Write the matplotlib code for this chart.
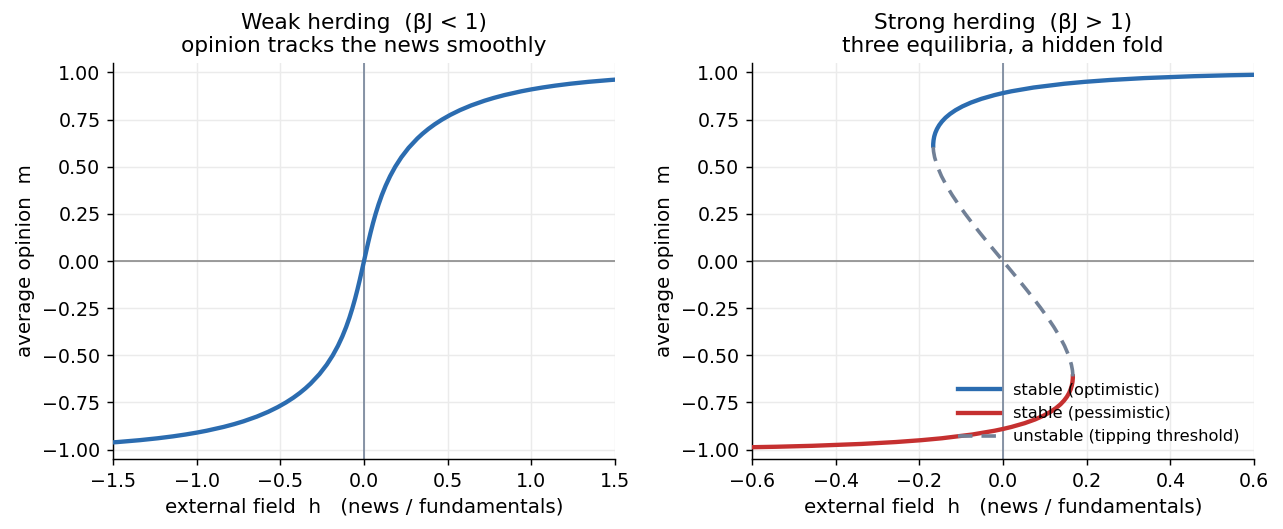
#!/usr/bin/env python3
import matplotlib
matplotlib.use("Agg")
import matplotlib.pyplot as plt

# weak herding: average opinion m vs external field h
WEAK_M_POS = [0.0, 0.05, 0.1, 0.15, 0.2, 0.25, 0.3, 0.35, 0.4, 0.45, 0.5, 0.55,
              0.6, 0.65, 0.675, 0.7, 0.725, 0.75, 0.775, 0.8, 0.825, 0.85, 0.865,
              0.88, 0.9, 0.91, 0.92, 0.93, 0.94, 0.95, 0.96, 0.965]
WEAK_H_POS = [0.0, 0.0126, 0.0254, 0.0389, 0.0534, 0.0693, 0.0869, 0.1068, 0.1296,
              0.1559, 0.1866, 0.2230, 0.2664, 0.3191, 0.3498, 0.3841, 0.4226, 0.4662,
              0.5160, 0.5733, 0.6403, 0.7202, 0.7761, 0.8397, 0.9403, 0.9994, 1.0663,
              1.1430, 1.2326, 1.3397, 1.4724, 1.5524]
weak_m = [-v for v in WEAK_M_POS[:0:-1]] + WEAK_M_POS
weak_h = [-v for v in WEAK_H_POS[:0:-1]] + WEAK_H_POS

# strong herding, upper stable branch (optimistic)
UP_M = [0.612, 0.62, 0.64, 0.66, 0.68, 0.70, 0.72, 0.74, 0.76, 0.78, 0.80, 0.82,
        0.84, 0.86, 0.88, 0.89, 0.90, 0.92, 0.94, 0.95, 0.96, 0.97, 0.98, 0.985, 0.99]
UP_H = [-0.1669, -0.1669, -0.1661, -0.1645, -0.1618, -0.1579, -0.1527, -0.1459,
        -0.1374, -0.1266, -0.1134, -0.0970, -0.0768, -0.0517, -0.0201, -0.0013,
        0.0201, 0.0731, 0.1463, 0.1949, 0.2562, 0.3377, 0.4560, 0.5417, 0.6642]
# lower stable branch (pessimistic) mirrors the upper one
LOW_M = [-v for v in UP_M]
LOW_H = [-v for v in UP_H]

# unstable middle branch (tipping threshold)
MID_M = [-0.612, -0.6, -0.58, -0.55, -0.5, -0.45, -0.4, -0.35, -0.3, -0.25, -0.2,
         -0.15, -0.1, -0.05, 0.0, 0.05, 0.1, 0.15, 0.2, 0.25, 0.3, 0.35, 0.4, 0.45,
         0.5, 0.55, 0.58, 0.6, 0.612]
MID_H = [0.1669, 0.1668, 0.1660, 0.1635, 0.1567, 0.1471, 0.1352, 0.1216, 0.1065,
         0.0904, 0.0733, 0.0555, 0.0373, 0.0187, 0.0, -0.0187, -0.0373, -0.0555,
         -0.0733, -0.0904, -0.1065, -0.1216, -0.1352, -0.1471, -0.1567, -0.1635,
         -0.1660, -0.1668, -0.1669]

BLUE = "#2b6cb0"
RED = "#c53030"
SLATE = "#718096"
Y_TICKS = [-1.0, -0.75, -0.5, -0.25, 0.0, 0.25, 0.5, 0.75, 1.0]

fig, (ax1, ax2) = plt.subplots(1, 2, figsize=(1283 / 130, 529 / 130), dpi=130)
fig.subplots_adjust(left=0.0881, right=0.9774, bottom=0.1323, top=0.8809, wspace=0.273)


def style_axes(ax, xlim, title):
    ax.axhline(0, color="#888888", lw=0.9, zorder=1)
    ax.axvline(0, color=SLATE, lw=0.9, zorder=1)
    ax.grid(True, color="#ebebeb", lw=0.8)
    ax.set_axisbelow(True)
    ax.set_xlim(*xlim)
    ax.set_ylim(-1.05, 1.05)
    ax.set_yticks(Y_TICKS)
    ax.set_yticklabels([f"{t:.2f}".replace("-", "\u2212") for t in Y_TICKS])
    ax.tick_params(labelsize=10.5)
    ax.spines["top"].set_visible(False)
    ax.spines["right"].set_visible(False)
    ax.set_xlabel("external field  h   (news / fundamentals)", fontsize=11)
    ax.set_ylabel("average opinion  m", fontsize=11)
    ax.set_title(title, fontsize=12)


ax1.plot(weak_h, weak_m, color=BLUE, lw=2.4, zorder=3)
style_axes(ax1, (-1.5, 1.5), "Weak herding  (βJ < 1)\nopinion tracks the news smoothly")
ax1.set_xticks([-1.5, -1.0, -0.5, 0.0, 0.5, 1.0, 1.5])

ax2.plot(UP_H, UP_M, color=BLUE, lw=2.4, zorder=3, label="stable (optimistic)")
ax2.plot(LOW_H, LOW_M, color=RED, lw=2.4, zorder=3, label="stable (pessimistic)")
ax2.plot(MID_H, MID_M, color=SLATE, lw=2.0, ls=(0, (4, 2.5)), zorder=3,
         label="unstable (tipping threshold)")
style_axes(ax2, (-0.6, 0.6), "Strong herding  (βJ > 1)\nthree equilibria, a hidden fold")
ax2.set_xticks([-0.6, -0.4, -0.2, 0.0, 0.2, 0.4, 0.6])
ax2.legend(loc="lower right", frameon=False, fontsize=9, handlelength=2.6)

plt.savefig("out.png", dpi=130)
